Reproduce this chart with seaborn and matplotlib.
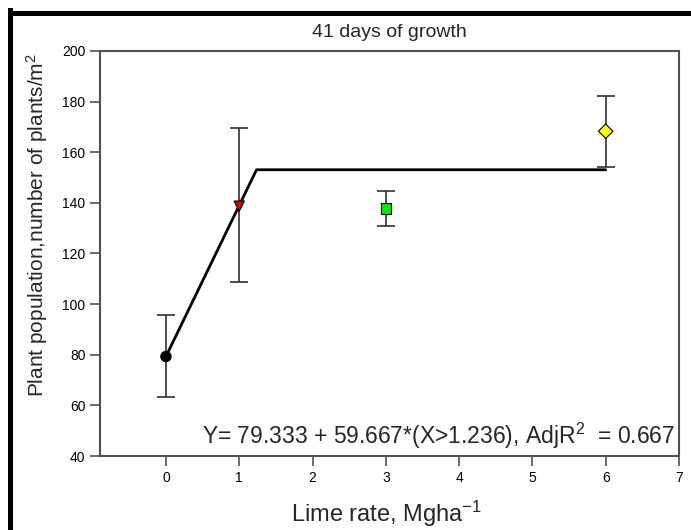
import numpy as np
import pandas as pd
import matplotlib
matplotlib.use("Agg")
import matplotlib.pyplot as plt
import seaborn as sns
from matplotlib.lines import Line2D

# ---- data ----
lime_rate = [0, 1, 3, 6]
population = [79.3, 138.7, 137.8, 168.3]
err_low = [63.2, 108.6, 131.0, 154.0]
err_high = [95.6, 169.4, 144.8, 182.4]
marker_colors = ["#000000", "#e00000", "#00ee00", "#ffff00"]
marker_shapes = ["o", "v", "s", "D"]
fit_intercept = 79.333
fit_slope = 59.667
fit_break = 1.236
fit_x = [0, fit_break, 6]
x_ticks = [0, 1, 2, 3, 4, 5, 6, 7]
y_ticks = [40, 60, 80, 100, 120, 140, 160, 180, 200]

title = "41 days of growth"
xlabel = "Lime rate, Mgha$^{\\mathregular{-1}}$"
ylabel = "Plant population,number of plants/m$^{\\mathregular{2}}$"
annot = "Y= 79.333 + 59.667*(X>1.236), AdjR$^{\\mathregular{2}}$  = 0.667"

sns.set_style("white")
plt.rcParams["font.family"] = ["Liberation Sans", "DejaVu Sans"]
plt.rcParams["mathtext.default"] = "regular"

df = pd.DataFrame({"x": lime_rate, "y": population,
                   "lo": err_low, "hi": err_high,
                   "grp": [str(v) for v in lime_rate]})
fit_df = pd.DataFrame({"x": fit_x,
                       "y": [fit_intercept + fit_slope * min(v, fit_break) for v in fit_x]})

fig = plt.figure(figsize=(6.91, 5.30), dpi=100)
ax = fig.add_axes([0.1447, 0.1396, 0.8379, 0.7642])

spine_col = "#505050"
ax.errorbar(df["x"], df["y"],
            yerr=[df["y"] - df["lo"], df["hi"] - df["y"]],
            fmt="none", ecolor="#303030", elinewidth=1.2, capsize=6.5, capthick=1.2, zorder=2)

sns.lineplot(data=fit_df, x="x", y="y", ax=ax, color="black", linewidth=2.0,
             zorder=3, legend=False)

sns.scatterplot(data=df, x="x", y="y", hue="grp", style="grp",
                palette=dict(zip(df["grp"], marker_colors)),
                markers=dict(zip(df["grp"], marker_shapes)),
                s=55, edgecolor="black", linewidth=0.8, ax=ax, zorder=4, legend=False)

ax.set_xlim(-0.9, 7)
ax.set_ylim(40, 200)
ax.set_xticks(x_ticks)
ax.set_yticks(y_ticks)
ax.tick_params(axis="both", direction="out", length=7, width=1.2, color=spine_col,
               labelsize=10, labelcolor="black", bottom=True, left=True)
ax.tick_params(axis="x", pad=4)
for sp in ax.spines.values():
    sp.set_color(spine_col)
    sp.set_linewidth(1.5)

ax.set_title(title, fontsize=14, pad=10)
ax.set_xlabel(xlabel, fontsize=17)
ax.xaxis.set_label_coords(0.495, -0.105)
ax.set_ylabel(ylabel, fontsize=15)
ax.yaxis.set_label_coords(-0.087, 0.57)

ax.text(0.993, 0.03, annot, transform=ax.transAxes, ha="right", va="baseline",
        fontsize=16.5)

# figure frame (left and top thick black edges)
fig.add_artist(Line2D([9.5 / 691, 9.5 / 691], [0, 1 - 10 / 530], transform=fig.transFigure,
                      color="black", linewidth=3.6, solid_capstyle="projecting"))
fig.add_artist(Line2D([9.5 / 691, 1], [1 - 12.5 / 530, 1 - 12.5 / 530], transform=fig.transFigure,
                      color="black", linewidth=3.6, solid_capstyle="projecting"))

fig.savefig("out.png", dpi=100)
